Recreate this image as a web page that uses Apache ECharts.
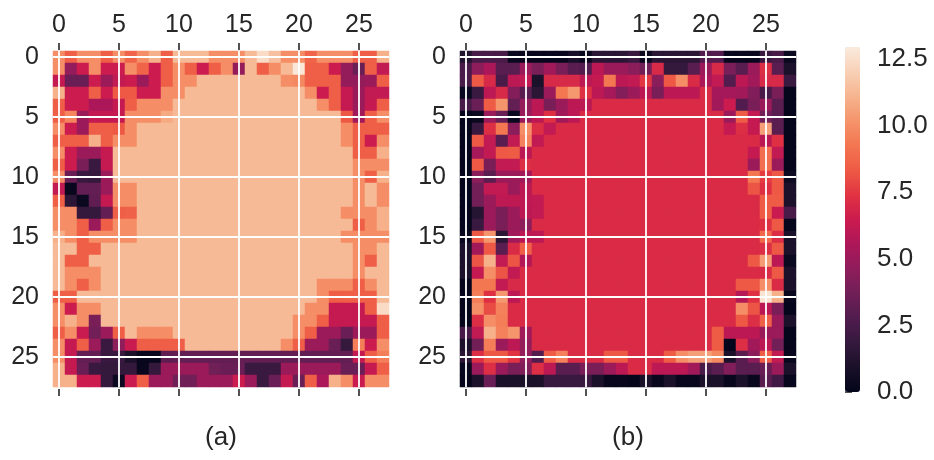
<!DOCTYPE html>
<html>
<head>
<meta charset="utf-8">
<script src="https://cdn.jsdelivr.net/npm/echarts@6/dist/echarts.min.js"></script>
<style>
html, body { margin: 0; padding: 0; background: #fff; }
#main { width: 934px; height: 460px; }
</style>
</head>
<body>
<div id="main"></div>
<script>
// axis labels
var cells = [0,1,2,3,4,5,6,7,8,9,10,11,12,13,14,15,16,17,18,19,20,21,22,23,24,25,26,27];
var colorbarTicks = [0, 2.5, 5, 7.5, 10, 12.5];
var captions = ['(a)', '(b)'];
// rocket colormap
var rocket = ['#03051a','#1a1029','#35193e','#511c4e','#701f57','#8f1d5b','#ad1759','#cb1b4f','#e13342','#ee5a45','#f37651','#f5946b','#f6b48f','#f8d0b6','#faebdd'];

// values, one row per line
var panelA = [
[10,8.5,10,10,8.5,10,8.7,10,11,8.5,11.3,11.3,11.3,10,10,10,11.3,12.4,11.5,10,10,8.7,10,10,10,8.5,8.5,11],
[10,4.8,6.5,10,6.5,6.5,10,8.7,6.5,8.5,10,8.5,6.5,8.5,10,4.8,11.3,8.5,10,11.3,12.8,8.5,8.5,6.5,4.8,3.5,8.5,6.2],
[6.3,3.5,3.5,6.5,5,6.2,6.5,5,6.5,8.5,10,10,11.3,11.3,11.3,11.3,11.3,11.3,11.3,10,9.8,8.5,8.5,8.5,4.8,4.8,5,8.5],
[11,6.5,6.5,8.5,6.5,8.3,8.3,6.5,6.5,10,10,11.3,11.3,11.3,11.3,11.3,11.3,11.3,11.3,11.3,11.3,10,6.5,8.5,6.3,5,6.2,6.2],
[8.5,6.5,6.5,5.5,5.5,6.3,8.5,10,10,10,11.3,11.3,11.3,11.3,11.3,11.3,11.3,11.3,11.3,11.3,11.3,11.3,10,8.5,6.3,5,6.3,8.5],
[8.5,9.7,5,6.3,6.3,6.3,10,10,10,10.8,11.3,11.3,11.3,11.3,11.3,11.3,11.3,11.3,11.3,11.3,11.3,11.3,11.3,11.3,8.3,5.2,8.5,10],
[10,6.5,5,8.5,8.5,8.3,10,11.3,11.3,11.3,11.3,11.3,11.3,11.3,11.3,11.3,11.3,11.3,11.3,11.3,11.3,11.3,11.3,11.3,10,8.5,8.5,8.5],
[8.5,8.5,8.5,11,8.5,10,10,11.3,11.3,11.3,11.3,11.3,11.3,11.3,11.3,11.3,11.3,11.3,11.3,11.3,11.3,11.3,11.3,11.3,10,8.5,6.5,10],
[10,6.5,5,5,6.3,11.3,11.3,11.3,11.3,11.3,11.3,11.3,11.3,11.3,11.3,11.3,11.3,11.3,11.3,11.3,11.3,11.3,11.3,11.3,11.3,8.5,8.5,11],
[8.5,6.5,4,2,6.3,11.3,11.3,11.3,11.3,11.3,11.3,11.3,11.3,11.3,11.3,11.3,11.3,11.3,11.3,11.3,11.3,11.3,11.3,11.3,11.3,10,10,10],
[10,3.5,2,1.8,5,11.3,11.3,11.3,11.3,11.3,11.3,11.3,11.3,11.3,11.3,11.3,11.3,11.3,11.3,11.3,11.3,11.3,11.3,11.3,11.3,10,8.5,11],
[6.2,0.2,3.3,3.3,5,10,10,11.3,11.3,11.3,11.3,11.3,11.3,11.3,11.3,11.3,11.3,11.3,11.3,11.3,11.3,11.3,11.3,11.3,11.3,10,11.3,10],
[8.5,1.5,0.3,3.2,6.3,10,10,11.3,11.3,11.3,11.3,11.3,11.3,11.3,11.3,11.3,11.3,11.3,11.3,11.3,11.3,11.3,11.3,11.3,11.3,10,11.3,10],
[10,10,1.8,1.8,3.3,8.5,8.6,11.3,11.3,11.3,11.3,11.3,11.3,11.3,11.3,11.3,11.3,11.3,11.3,11.3,11.3,11.3,11.3,11.3,10,10,10,11],
[10,10,8.5,5,8.5,10,10,11.3,11.3,11.3,11.3,11.3,11.3,11.3,11.3,11.3,11.3,11.3,11.3,11.3,11.3,11.3,11.3,11.3,11.3,8.5,10,11],
[11,10,8.5,10,10,10,10,11.3,11.3,11.3,11.3,11.3,11.3,11.3,11.3,11.3,11.3,11.3,11.3,11.3,11.3,11.3,11.3,11.3,10,10,10,10],
[11.3,11.3,8.5,8.5,11.3,11.3,11.3,11.3,11.3,11.3,11.3,11.3,11.3,11.3,11.3,11.3,11.3,11.3,11.3,11.3,11.3,11.3,11.3,11.3,11.3,10,10,11.3],
[11.3,8.5,8.5,11.3,11.3,11.3,11.3,11.3,11.3,11.3,11.3,11.3,11.3,11.3,11.3,11.3,11.3,11.3,11.3,11.3,11.3,11.3,11.3,11.3,11.3,10,8.5,11.3],
[11.3,10,10,10,11.3,11.3,11.3,11.3,11.3,11.3,11.3,11.3,11.3,11.3,11.3,11.3,11.3,11.3,11.3,11.3,11.3,11.3,11.3,11.3,11.3,10,11.3,11.3],
[11.3,10,8.5,10,11.3,11.3,11.3,11.3,11.3,11.3,11.3,11.3,11.3,11.3,11.3,11.3,11.3,11.3,11.3,11.3,11.3,11.3,10,10,10,8.5,10,11.3],
[8.5,8.5,11.3,11.3,11.3,11.3,11.3,11.3,11.3,11.3,11.3,11.3,11.3,11.3,11.3,11.3,11.3,11.3,11.3,11.3,11.3,11.3,10,8.5,8.5,8.5,8.5,11.3],
[10,6.5,10,10,11.3,11.3,11.3,11.3,11.3,11.3,11.3,11.3,11.3,11.3,11.3,11.3,11.3,11.3,11.3,11.3,11.3,10,10,6.3,6.3,6.3,8.5,12.4],
[10,11,10,4,11.3,11.3,11.3,11.3,11.3,11.3,11.3,11.3,11.3,11.3,11.3,11.3,11.3,11.3,11.3,11.3,10,10,8.5,6.3,6.3,6.3,6.3,8.5],
[8.5,10,6.4,3.8,5,8.5,11.3,10,10,10,11.3,11.3,11.3,11.3,11.3,11.3,11.3,11.3,11.3,11.3,10,8.5,5,5,3.5,5,5,8.5],
[10,6.3,8.5,5,2,4.6,6.4,8.5,8.5,8.5,8.5,11.3,11.3,11.3,11.3,11.3,11.3,11.3,11.3,10,8.5,5,5,3.5,1.8,9.5,6.5,10],
[10,6.3,3.3,3.3,2,2,1,0.2,0.2,3.2,3.3,3.3,3.3,3.3,3.3,3.3,3.3,3.3,3.3,3.3,3.3,3.3,3.3,3.3,3.3,6.3,8.5,9.5],
[11,6.3,3.5,2,1.8,1.8,1.8,0.2,1.8,5,5,5,5,3.7,3.5,3.5,2,2,2,5,5,5,5,5,3.5,3.5,6.3,8.5],
[11,11,6.5,6.5,1.8,0.3,6.4,8.5,5,5,3.7,3.7,5,5,5,6.5,5,2,3.5,6.3,3.5,8.5,5.5,11,10,6.4,10,10]
];

var panelB = [
[1.2,2.5,2.5,2.5,0.3,0.2,0.2,0.2,0.2,0.8,0.2,1.5,1.5,1.5,2,0.3,1.5,1.5,1.5,1.5,2.8,2.8,0.2,0.2,0.2,2,2.5,0.3],
[2.5,4.6,5.5,3,3,5,4,5.2,4,3,2.8,6,5,5,4.5,3.8,7,1.8,1.8,3,5,7,4,3,5,7.2,3,1],
[2.5,8.3,7,2.5,6,6.2,1,7,7,7,6,6.3,9.3,6,6.2,7.5,4.5,8.3,10,7.1,5.5,6.2,2.8,6,5.2,7,7,2],
[0.3,2,6,7,4.3,3,1.5,5,9.3,10.3,7.3,6,5.3,4.3,5,6,4,6,6,6,7.1,5.3,5.3,5.2,4.2,2.5,4,0.1],
[2.5,3.5,8.4,10.2,3.3,4.8,6,4,5,6,6,7.1,7.1,7.1,7.1,7.1,7.1,7.1,7.1,7.1,7.1,5.2,6.5,2.8,4,5,3,0.1],
[0.1,0.3,5,3.5,0.3,5,6,7.3,5.2,6,7.1,7.1,7.1,7.1,7.1,7.1,7.1,7.1,7.1,7.1,7.1,7.1,5,8.4,6.3,3.8,3,0.1],
[0.1,2,7.2,9.3,4.5,10,7.2,6.2,7.1,7.1,7.1,7.1,7.1,7.1,7.1,7.1,7.1,7.1,7.1,7.1,7.1,7.1,6.3,7.2,6.3,10.5,3,0.1],
[0.1,8.3,6.2,3,6.2,9.6,6.2,7.1,7.1,7.1,7.1,7.1,7.1,7.1,7.1,7.1,7.1,7.1,7.1,7.1,7.1,7.1,7.1,7.1,7.1,6,7.3,0.1],
[0.1,5.3,6.2,8.3,8.4,6,7.1,7.1,7.1,7.1,7.1,7.1,7.1,7.1,7.1,7.1,7.1,7.1,7.1,7.1,7.1,7.1,7.1,7.1,6.3,9,6.2,0.1],
[0.1,8.3,4,6.2,6.2,7.2,7.1,7.1,7.1,7.1,7.1,7.1,7.1,7.1,7.1,7.1,7.1,7.1,7.1,7.1,7.1,7.1,7.1,7.1,5,9,5,0.1],
[0.1,4.5,3,5,5,5.2,7.1,7.1,7.1,7.1,7.1,7.1,7.1,7.1,7.1,7.1,7.1,7.1,7.1,7.1,7.1,7.1,7.1,7.1,9.3,7.6,8.3,0.5],
[0.1,3.8,6.2,6.2,5,6,7.1,7.1,7.1,7.1,7.1,7.1,7.1,7.1,7.1,7.1,7.1,7.1,7.1,7.1,7.1,7.1,7.1,7.1,8.2,7.3,8.3,1],
[0.1,3.8,5,6.1,6.1,6.1,6.2,7.1,7.1,7.1,7.1,7.1,7.1,7.1,7.1,7.1,7.1,7.1,7.1,7.1,7.1,7.1,7.1,7.1,7.1,8.4,8.4,1],
[0.1,1.3,5,4,5,6,6.2,7.1,7.1,7.1,7.1,7.1,7.1,7.1,7.1,7.1,7.1,7.1,7.1,7.1,7.1,7.1,7.1,7.1,7.1,8.4,6.4,2.5],
[0.1,2,5,4,5,4.6,7.1,7.1,7.1,7.1,7.1,7.1,7.1,7.1,7.1,7.1,7.1,7.1,7.1,7.1,7.1,7.1,7.1,7.1,7.1,7.3,8.3,0.1],
[0.3,8.3,10.2,1.5,5.2,6,6,7.1,7.1,7.1,7.1,7.1,7.1,7.1,7.1,7.1,7.1,7.1,7.1,7.1,7.1,7.1,7.1,7.1,7.1,8.8,7.2,1],
[1,5.2,8.3,3,7.1,8.5,7.1,7.1,7.1,7.1,7.1,7.1,7.1,7.1,7.1,7.1,7.1,7.1,7.1,7.1,7.1,7.1,7.1,7.1,7.1,7.2,8.3,1],
[1,8.2,11,6.2,8.2,5.8,7.1,7.1,7.1,7.1,7.1,7.1,7.1,7.1,7.1,7.1,7.1,7.1,7.1,7.1,7.1,7.1,7.1,7.1,8.3,10.4,6,0.3],
[1,6.3,10,8.2,6.2,7.1,7.1,7.1,7.1,7.1,7.1,7.1,7.1,7.1,7.1,7.1,7.1,7.1,7.1,7.1,7.1,7.1,7.1,7.1,7.1,7.1,8.3,1],
[0.1,9.3,9.3,6.2,7,7.1,7.1,7.1,7.1,7.1,7.1,7.1,7.1,7.1,7.1,7.1,7.1,7.1,7.1,7.1,7.1,7.1,7.1,8.3,8.3,10,7.1,1],
[0.1,9.5,7.3,10.3,6,7.1,7.1,7.1,7.1,7.1,7.1,7.1,7.1,7.1,7.1,7.1,7.1,7.1,7.1,7.1,7.1,7.1,7.1,5.8,7.3,12.7,11,0.2],
[0.1,10,8,9.6,7.1,7.1,7.1,7.1,7.1,7.1,7.1,7.1,7.1,7.1,7.1,7.1,7.1,7.1,7.1,7.1,7.1,7.1,7.1,10,8.2,6,4,0.1],
[0.1,7.2,10,9.5,7.1,7.1,7.1,7.1,7.1,7.1,7.1,7.1,7.1,7.1,7.1,7.1,7.1,7.1,7.1,7.1,7.1,7.1,7.1,8.3,7.2,8.6,5,1],
[2.5,6.2,11,9.6,10.2,5.2,7.1,7.1,7.1,7.1,7.1,7.1,7.1,7.1,7.1,7.1,7.1,7.1,7.1,7.1,7.1,8.4,6,6,6,5,5,0.1],
[1,3.8,9.5,5,6,4.8,7.1,7.1,7.1,7.1,7.1,7.1,7.1,7.1,7.1,7.1,7.1,7.1,7.1,7.1,7.1,8.4,0.1,7.2,5.2,6,3.8,0.1],
[1.5,7.2,8.3,8.3,7.4,4.8,2.8,8.4,9.6,7.1,7.1,7.1,8.3,8.3,7.1,7.1,7.1,8.4,10,10.5,10.5,9.8,1,3,4.5,8.5,6.2,0.2],
[0.2,5,7.2,5,4,4.2,7.2,6,3,3,4,4,5,6,7.1,7.1,6,6,6,5.2,2.5,3,4.2,3,3,3.5,5,1],
[0.1,1,3.5,1,1,1,1,2,2,2,2,1,0.2,0.2,0.1,1,0.2,1,0.2,0.2,1,1,0.2,1,0.2,3,2.2,0.2]
];

function toCells(rows) {
    var out = [];
    for (var r = 0; r < rows.length; r++) {
        for (var c = 0; c < rows[r].length; c++) {
            out.push([c, r, rows[r][c]]);
        }
    }
    return out;
}

var textColor = '#262626';
var gridLine = { show: true, alignWithLabel: true, interval: 4, lineStyle: { color: '#fff', width: 1.8 } };
var tick = { show: true, alignWithLabel: true, interval: 4, length: 7, lineStyle: { color: textColor, width: 1.6 } };

function topAxis(i) {
    return {
        gridIndex: i, type: 'category', position: 'top', offset: 1, data: cells, z: 5,
        axisLine: { show: false }, axisTick: tick, splitLine: gridLine,
        axisLabel: { interval: 4, color: textColor, fontSize: 25, fontFamily: 'Liberation Sans', margin: 12 }
    };
}
function bottomAxis(i) {
    return {
        gridIndex: i, type: 'category', position: 'bottom', offset: 2, data: cells, z: 5,
        axisLine: { show: false }, axisTick: tick, axisLabel: { show: false }, splitLine: { show: false },
        name: captions[i], nameLocation: 'middle', nameGap: 36,
        nameTextStyle: { color: textColor, fontSize: 26, fontFamily: 'Liberation Sans' }
    };
}
function leftAxis(i) {
    return {
        gridIndex: i, type: 'category', inverse: true, data: cells, z: 5,
        axisLine: { show: false }, axisTick: { show: false }, splitLine: gridLine,
        axisLabel: { interval: 4, color: textColor, fontSize: 25, fontFamily: 'Liberation Sans', margin: 14 }
    };
}

var chart = echarts.init(document.getElementById('main'), null, { renderer: 'canvas' });
chart.setOption({
    animation: false,
    backgroundColor: '#fff',
    grid: [
        { left: 53, top: 51, width: 336, height: 336 },
        { left: 460, top: 51, width: 336, height: 336 },
        { left: 845, top: 47, width: 15, height: 345 }
    ],
    xAxis: [
        topAxis(0), bottomAxis(0), topAxis(1), bottomAxis(1),
        { gridIndex: 2, type: 'value', min: 0, max: 1, show: false }
    ],
    yAxis: [
        leftAxis(0), leftAxis(1),
        {
            gridIndex: 2, type: 'value', position: 'right', offset: 2, min: 0, max: 12.95,
            axisLine: { show: false }, splitLine: { show: false },
            axisTick: { show: true, length: 7, customValues: colorbarTicks, lineStyle: { color: textColor, width: 1.6 } },
            axisLabel: {
                color: textColor, fontSize: 26, fontFamily: 'Liberation Sans', margin: 15,
                customValues: colorbarTicks,
                formatter: function (v) { return v.toFixed(1); }
            }
        }
    ],
    visualMap: {
        type: 'continuous', min: 0, max: 12.95, seriesIndex: [0, 1], dimension: 2,
        left: 845, top: 47, padding: 0, itemWidth: 15, itemHeight: 345,
        calculable: false, realtime: false, text: null,
        inRange: { color: rocket }
    },
    series: [
        { type: 'heatmap', xAxisIndex: 0, yAxisIndex: 0, data: toCells(panelA), progressive: 0, z: 2, silent: true },
        { type: 'heatmap', xAxisIndex: 2, yAxisIndex: 1, data: toCells(panelB), progressive: 0, z: 2, silent: true }
    ]
});
</script>
</body>
</html>
